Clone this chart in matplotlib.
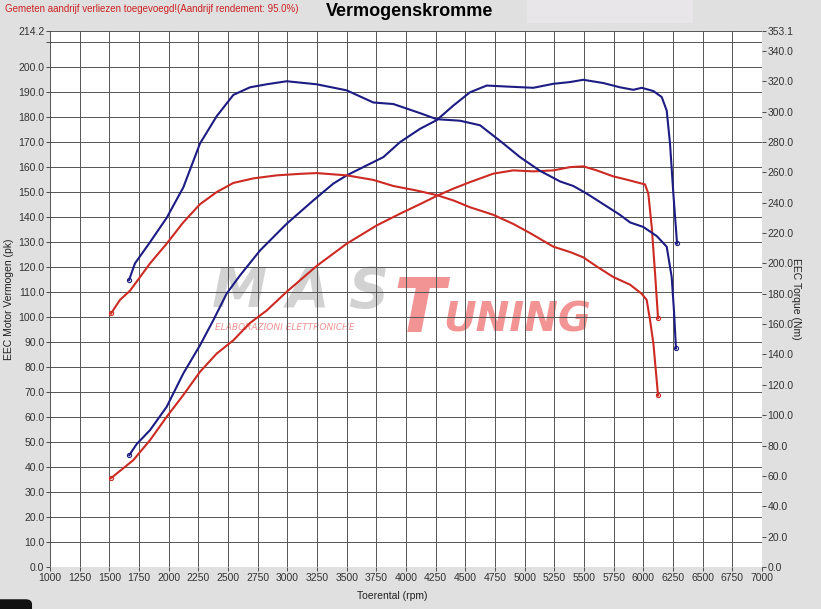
import matplotlib
matplotlib.use("Agg")
import matplotlib.pyplot as plt
import numpy as np
from matplotlib.patches import FancyBboxPatch, Rectangle

plt.rcParams['font.family'] = ['Liberation Sans', 'DejaVu Sans']

# tuned (blue) power, pk
rpm_pw_blue = [1668, 1730, 1843, 1983, 2123, 2264, 2376, 2489, 2601, 2770, 2995, 3219, 3387, 3500,
               3669, 3809, 3950, 4118, 4259, 4399, 4539, 4680, 4848, 5073, 5242, 5382, 5494, 5663,
               5803, 5916, 5986, 6085, 6155, 6197, 6225, 6253, 6284]
pw_blue = [44.7, 49.1, 54.7, 64.0, 77.3, 88.6, 98.6, 109.3, 116.5, 126.5, 137.2, 146.5, 153.2, 156.5,
           160.5, 163.8, 169.8, 175.1, 178.6, 184.4, 189.7, 192.4, 192.0, 191.5, 193.1, 193.8, 194.7, 193.4,
           191.7, 190.7, 191.5, 190.2, 187.8, 182.4, 169.1, 149.2, 129.3]

# stock (red) power, pk
rpm_pw_red = [1514, 1702, 1843, 1983, 2123, 2264, 2405, 2545, 2685, 2826, 2995, 3247, 3500, 3753,
              3950, 4118, 4259, 4399, 4539, 4736, 4904, 5073, 5242, 5382, 5494, 5607, 5747, 5860,
              5972, 6014, 6042, 6071, 6099, 6124]
pw_red = [35.5, 42.7, 50.7, 60.0, 68.7, 78.0, 85.3, 90.6, 97.5, 102.5, 110.0, 120.3, 129.2, 136.5,
          141.2, 145.0, 148.3, 151.2, 153.8, 157.2, 158.5, 158.1, 158.5, 159.8, 160.1, 158.5, 156.1, 154.8,
          153.4, 152.9, 149.2, 135.8, 117.2, 99.4]

# tuned (blue) torque, Nm
rpm_tq_blue = [1666, 1716, 1843, 1983, 2123, 2264, 2405, 2545, 2685, 2826, 2995, 3247, 3500, 3725,
               3893, 4118, 4259, 4455, 4624, 4820, 4961, 5129, 5298, 5410, 5523, 5663, 5803, 5888,
               6000, 6113, 6197, 6239, 6258, 6275]
tq_blue = [189, 200, 214, 230, 250, 279, 297, 311, 316, 318, 320, 318, 314, 306,
           305, 299, 295, 294, 291, 279, 270, 261, 254, 251, 246, 239, 232, 227,
           224, 218, 211, 191, 169, 144]

# stock (red) torque, Nm
rpm_tq_red = [1514, 1590, 1674, 1843, 1983, 2123, 2264, 2405, 2545, 2713, 2910, 3107, 3247, 3500,
              3725, 3893, 4090, 4259, 4399, 4539, 4736, 4904, 5045, 5242, 5382, 5494, 5607, 5747,
              5888, 5986, 6028, 6057, 6085, 6124]
tq_red = [167, 176, 182, 200, 213, 227, 239, 247, 253, 256, 258, 259, 259.5, 258,
          255, 251, 248, 245, 241.5, 237, 232, 226, 220, 211, 207.5, 204, 198, 191,
          186, 180, 176, 162.5, 147, 113]

x_ticks = list(range(1000, 7001, 250))
pk_ticks = list(range(0, 211, 10)) + [214.2]
nm_ticks = list(range(0, 341, 20)) + [353.1]

blue = '#1c1c84'
red = '#cc2a22'

fig = plt.figure(figsize=(8.21, 6.09), dpi=100, facecolor='#e0e0e0')
ax = fig.add_axes([50/821, 1-567/609, 712/821, 536/609])
ax.set_facecolor('white')
ax.set_xlim(1000, 7000)
ax.set_ylim(0, 214.2)
for s in ax.spines.values():
    s.set_visible(False)

ax.set_xticks(x_ticks)
ax.set_xticklabels([str(v) for v in x_ticks])
ax.set_yticks(pk_ticks)
ax.set_yticklabels(['' if v == 210 else '%.1f' % v for v in pk_ticks])
ax.tick_params(labelsize=7.5, colors='#333333', length=3, width=0.6, pad=1)
ax.grid(True, color='#555555', lw=0.7, zorder=0)

ax.set_xlabel('Toerental (rpm)', fontsize=7.5, color='#222222', labelpad=2)
ax.xaxis.set_label_coords(0.48, -0.045)
ax.set_ylabel('EEC Motor Vermogen (pk)', fontsize=7.5, color='#222222', labelpad=2)
ax.yaxis.set_label_coords(-0.05, 0.5)

# watermark
ax.text(0.228, 0.485, 'M A S', transform=ax.transAxes, fontsize=40, fontweight='black',
        style='italic', color='#c4c4c4', alpha=0.75, zorder=1, family='DejaVu Sans')
ax.text(0.482, 0.438, 'T', transform=ax.transAxes, fontsize=54, fontweight='black',
        style='italic', color='#f07a7a', alpha=0.8, zorder=1, family='DejaVu Sans')
ax.text(0.552, 0.44, 'UNING', transform=ax.transAxes, fontsize=29, fontweight='black',
        style='italic', color='#f07a7a', alpha=0.8, zorder=1, family='DejaVu Sans')
ax.text(0.232, 0.442, 'ELABORAZIONI ELETTRONICHE', transform=ax.transAxes, fontsize=6.5,
        style='italic', color='#f08080', alpha=0.85, zorder=1, family='DejaVu Sans')

ax.plot(rpm_pw_blue, pw_blue, color=blue, lw=1.5, zorder=3)
ax.plot(rpm_pw_red, pw_red, color=red, lw=1.5, zorder=3)
for xs, ys, c in [(rpm_pw_blue, pw_blue, blue), (rpm_pw_red, pw_red, red)]:
    ax.plot([xs[0], xs[-1]], [ys[0], ys[-1]], 'o', ms=3, mfc='none', mec=c, mew=0.8, zorder=4)

ax2 = ax.twinx()
ax2.set_ylim(0, 353.1)
for s in ax2.spines.values():
    s.set_visible(False)
ax2.set_yticks(nm_ticks)
ax2.set_yticklabels(['%.1f' % v for v in nm_ticks])
ax2.tick_params(labelsize=7.5, colors='#333333', length=3, width=0.6, pad=1)
ax2.set_ylabel('EEC Torque (Nm)', fontsize=7.5, color='#222222', rotation=-90, labelpad=2)
ax2.yaxis.set_label_coords(1.055, 0.5)

ax2.plot(rpm_tq_blue, tq_blue, color=blue, lw=1.5, zorder=3)
ax2.plot(rpm_tq_red, tq_red, color=red, lw=1.5, zorder=3)
for xs, ys, c in [(rpm_tq_blue, tq_blue, blue), (rpm_tq_red, tq_red, red)]:
    ax2.plot([xs[0], xs[-1]], [ys[0], ys[-1]], 'o', ms=3, mfc='none', mec=c, mew=0.8, zorder=4)

fig.text(5/821, 1-9/609, 'Gemeten aandrijf verliezen toegevoegd!(Aandrijf rendement: 95.0%)',
         fontsize=7, color='#cc2222', va='center', ha='left')
fig.text(410/821, 1-12/609, 'Vermogenskromme', fontsize=13, fontweight='bold',
         color='black', va='center', ha='center')
fig.patches.append(Rectangle((527/821, 1-23/609), 166/821, 23/609, transform=fig.transFigure,
                             facecolor='#e8e6e8', edgecolor='none'))
fig.patches.append(FancyBboxPatch((-0.01, -0.02), 0.049, 0.036, boxstyle='round,pad=0,rounding_size=0.008',
                                  transform=fig.transFigure, facecolor='#111111', edgecolor='none'))

fig.savefig('out.png', dpi=100, facecolor=fig.get_facecolor())
